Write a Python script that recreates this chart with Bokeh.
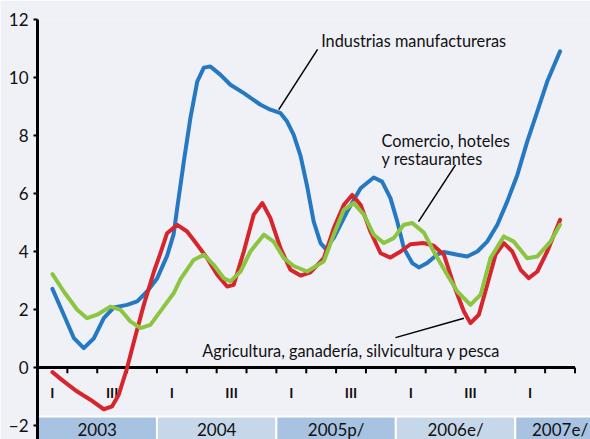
from bokeh.plotting import figure
from bokeh.models import Range1d, FixedTicker
from bokeh.core.properties import value
from bokeh.embed import file_html
from bokeh.resources import INLINE

# ---- data (x in quarters since start of 2003) ----
manuf_x = [0.5, 0.88, 1.22, 1.55, 1.89, 2.22, 2.56, 3.00, 3.34, 3.67, 4.01, 4.34, 4.56, 4.68, 4.90,
           5.12, 5.35, 5.57, 5.79, 6.13, 6.46, 6.91, 7.47, 7.80, 8.14, 8.36, 8.58, 8.81, 9.03, 9.25,
           9.48, 9.65, 9.92, 10.37, 10.82, 11.26, 11.54, 11.82, 12.05, 12.27, 12.55, 12.77, 13.05,
           13.39, 13.61, 14.06, 14.39, 14.73, 15.06, 15.40, 15.73, 16.07, 16.40, 16.74, 17.07, 17.5]
manuf_y = [2.71, 1.82, 1.01, 0.67, 1.01, 1.70, 2.07, 2.16, 2.28, 2.62, 3.08, 3.85, 4.60, 5.50, 7.10,
           8.60, 9.86, 10.34, 10.38, 10.09, 9.75, 9.46, 9.06, 8.89, 8.77, 8.48, 8.02, 7.30, 6.25, 5.03,
           4.29, 4.09, 4.46, 5.38, 6.18, 6.55, 6.41, 5.84, 5.03, 4.11, 3.60, 3.45, 3.60,
           3.90, 3.98, 3.89, 3.83, 4.00, 4.34, 4.92, 5.72, 6.64, 7.79, 8.83, 9.86, 10.90]

agri_x = [0.5, 0.88, 1.33, 1.77, 2.22, 2.50, 2.72, 3.00, 3.23, 3.56, 3.90, 4.12, 4.34, 4.68, 5.01,
          5.35, 5.68, 6.02, 6.35, 6.57, 6.91, 7.24, 7.53, 7.80, 8.14, 8.47, 8.81, 9.14, 9.59, 9.92,
          10.26, 10.54, 10.82, 11.15, 11.49, 11.82, 12.16, 12.49, 12.94, 13.27, 13.61, 13.94, 14.28,
          14.50, 14.78, 15.06, 15.34, 15.62, 15.90, 16.18, 16.45, 16.74, 17.07, 17.5]
agri_y = [-0.16, -0.48, -0.83, -1.11, -1.44, -1.34, -0.94, -0.02, 0.90, 2.16, 3.31, 3.95, 4.63, 4.92, 4.69,
          4.23, 3.77, 3.20, 2.79, 2.85, 4.00, 5.27, 5.67, 5.15, 4.11, 3.37, 3.17, 3.28, 3.77, 4.80,
          5.61, 5.95, 5.61, 4.69, 3.94, 3.79, 4.00, 4.25, 4.29, 4.20, 3.89, 2.85, 1.93,
          1.53, 1.82, 2.85, 3.89, 4.29, 4.00, 3.37, 3.08, 3.31, 4.00, 5.09]

comer_x = [0.5, 0.88, 1.33, 1.66, 2.00, 2.44, 2.78, 3.11, 3.45, 3.78, 4.23, 4.56, 4.79, 5.23, 5.57,
           5.90, 6.24, 6.46, 6.80, 7.13, 7.58, 7.91, 8.25, 8.58, 9.03, 9.59, 9.92, 10.26, 10.59,
           10.93, 11.26, 11.60, 11.93, 12.27, 12.55, 12.94, 13.27, 13.72, 14.06, 14.50, 14.84,
           15.17, 15.62, 15.95, 16.40, 16.74, 17.18, 17.5]
comer_y = [3.22, 2.62, 1.99, 1.70, 1.82, 2.10, 1.99, 1.59, 1.36, 1.47, 2.10, 2.56, 3.05, 3.71, 3.89,
           3.54, 3.08, 2.97, 3.31, 4.00, 4.58, 4.34, 3.77, 3.50, 3.31, 3.66, 4.58, 5.44, 5.67,
           5.27, 4.58, 4.29, 4.46, 4.92, 4.98, 4.65, 4.00, 3.20, 2.62, 2.16, 2.51,
           3.77, 4.52, 4.34, 3.77, 3.83, 4.34, 4.92]

years = ["2003", "2004", "2005p/", "2006e/", "2007e/"]
year_start = [0, 4, 8, 12, 16]
year_end = [4, 8, 12, 16, 20]
year_label_x = [2, 6, 10, 14, 17.5]
quarter_bounds = list(range(19))
roman_x = [0.5, 2.5, 4.5, 6.5, 8.5, 10.5, 12.5, 14.5, 16.5]
roman_text = ["I", "III", "I", "III", "I", "III", "I", "III", "I"]
y_ticks = [-2, 0, 2, 4, 6, 8, 10, 12]

labels_text = ["Industrias manufactureras", "Comercio, hoteles", "y restaurantes",
               "Agricultura, ganadería, silvicultura y pesca"]
labels_x = [9.50, 11.52, 11.52, 5.52]
labels_y = [11.27, 7.82, 7.19, 0.60]
leader_x0 = [9.38, 14.0, 11.99]
leader_y0 = [10.97, 6.99, 1.03]
leader_x1 = [8.08, 12.76, 14.28]
leader_y1 = [8.89, 5.03, 1.70]

BG = "#F0F0F7"
FONT = "Lato"

p = figure(width=590, height=439, output_backend="svg", toolbar_location=None,
           x_range=Range1d(0, 18.52), y_range=Range1d(-2.483, 12.0),
           min_border_left=37, min_border_right=0, min_border_top=19, min_border_bottom=0)
p.background_fill_color = BG
p.border_fill_color = BG
p.outline_line_color = None
p.grid.visible = False
p.xaxis.visible = False

ya = p.yaxis[0]
ya.ticker = FixedTicker(ticks=y_ticks)
ya.axis_line_width = 3
ya.axis_line_color = "black"
ya.major_tick_line_width = 2
ya.major_tick_out = 4
ya.major_tick_in = 0
ya.minor_tick_line_color = None
ya.major_label_text_font = FONT
ya.major_label_text_font_size = "17px"
ya.major_label_text_color = "#111111"
ya.major_label_standoff = 5

# year bands
p.quad(left=year_start, right=year_end, top=-1.69, bottom=-2.6,
       fill_color=["#A8C3E1", "#C6D7EA", "#A8C3E1", "#C6D7EA", "#A8C3E1"],
       line_color="white", line_width=2)
p.text(x=year_label_x, y=-2.15, text=years, text_font=value(FONT), text_font_size="17px",
       text_align="center", text_baseline="middle", text_color="#111111")

# x axis line and ticks
p.line(x=quarter_bounds, y=[0] * len(quarter_bounds), line_color="black", line_width=3)
p.segment(x0=quarter_bounds, x1=quarter_bounds, y0=[0] * len(quarter_bounds),
          y1=[-0.2] * len(quarter_bounds), line_color="black", line_width=2)
p.text(x=roman_x, y=-0.86, text=roman_text, text_font=value(FONT), text_font_size="14px",
       text_font_style="bold", text_align="center", text_baseline="middle", text_color="#111111")

# series
p.line(manuf_x, manuf_y, line_color="#2479C2", line_width=4, line_join="round", line_cap="round")
p.line(agri_x, agri_y, line_color="#D6252D", line_width=4, line_join="round", line_cap="round")
p.line(comer_x, comer_y, line_color="#8CC540", line_width=4, line_join="round", line_cap="round")

# annotations
p.segment(x0=leader_x0, y0=leader_y0, x1=leader_x1, y1=leader_y1, line_color="black", line_width=1.5)
p.text(x=labels_x, y=labels_y, text=labels_text, text_font=value(FONT), text_font_size="16.3px",
       text_align="left", text_baseline="alphabetic", text_color="#111111")

open("out.html", "w").write(file_html(p, INLINE))
